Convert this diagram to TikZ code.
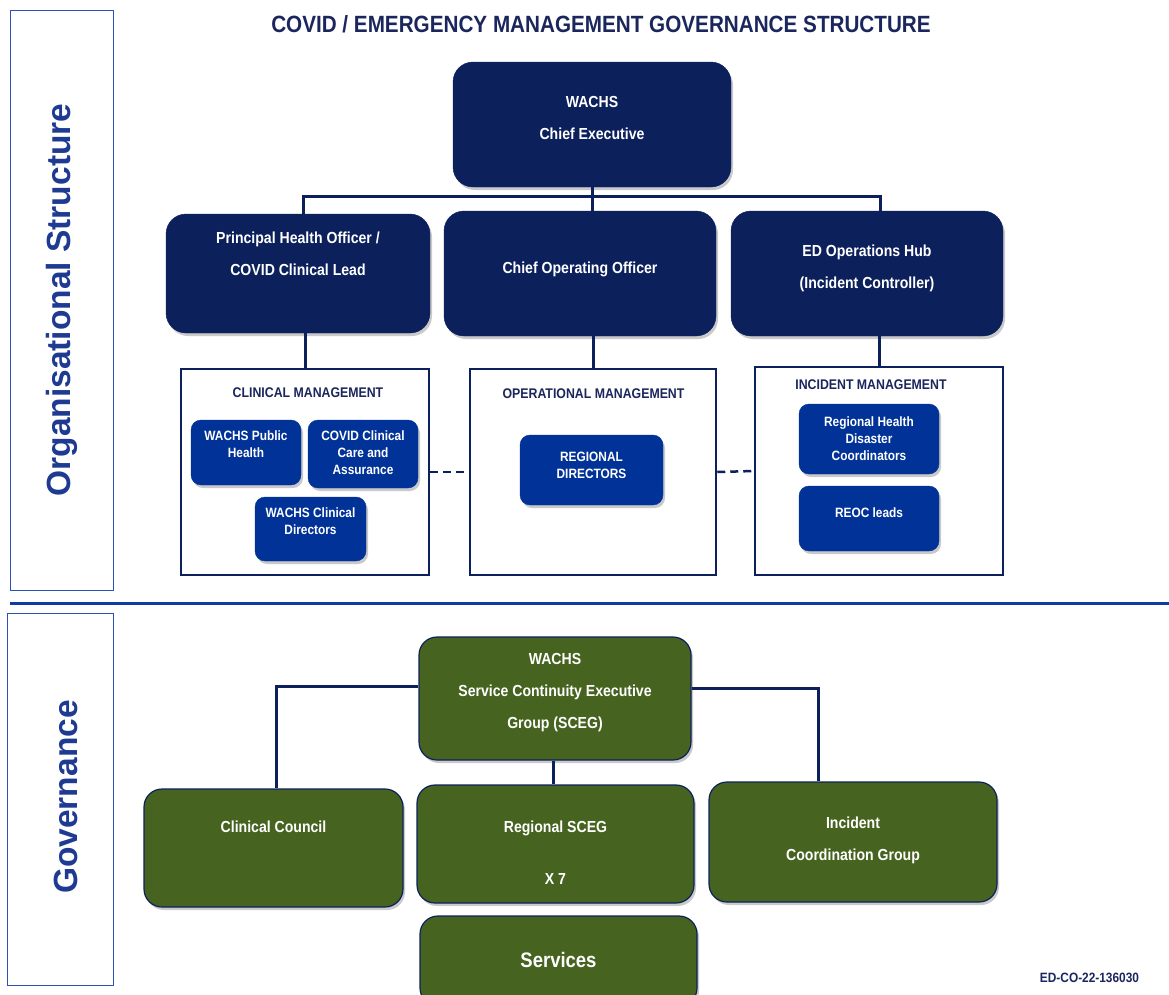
\documentclass[tikz,border=0pt]{standalone}
\usepackage{fontspec}
\newfontfamily\narrow{Liberation Sans}[FakeStretch=0.88]
\newfontfamily\wide{Liberation Sans}
\usetikzlibrary{shadows}
\definecolor{navy}{RGB}{12,32,92}
\definecolor{royal}{RGB}{0,50,152}
\definecolor{leaf}{RGB}{70,99,32}
\definecolor{titlec}{RGB}{26,38,92}
\definecolor{sidec}{RGB}{30,58,145}
\definecolor{sideb}{RGB}{45,80,180}
\definecolor{sepc}{RGB}{18,60,165}
\tikzset{
  shd/.style={drop shadow={shadow xshift=2pt, shadow yshift=-3pt, opacity=0.35, fill=black!60}},
  navybox/.style={fill=navy, draw=navy, rounded corners=20pt, shd},
  innerbox/.style={fill=royal, draw=royal, rounded corners=10pt, shd},
  greenbox/.style={fill=leaf, draw=navy, line width=1.2pt, rounded corners=18pt, shd},
  mgmt/.style={draw=navy, line width=2.5pt, fill=white},
  btext/.style={text=white, font=\narrow\bfseries\fontsize{16}{32}\selectfont, align=center, inner sep=0pt},
  itext/.style={text=white, font=\narrow\bfseries\fontsize{13.5}{17}\selectfont, align=center, inner sep=0pt},
  mtitle/.style={text=titlec, font=\narrow\bfseries\fontsize{14}{16}\selectfont, inner sep=0pt},
  conn/.style={draw=navy, line width=3pt},
  dconn/.style={draw=navy, line width=2.5pt, dash pattern=on 8pt off 5pt},
  sidebox/.style={draw=sideb, line width=1pt},
  sidelabel/.style={text=sidec, font=\wide\bfseries\fontsize{33.5}{36}\selectfont, rotate=90, inner sep=0pt},
}
\begin{document}
\begin{tikzpicture}[x=1pt,y=-1pt]
\useasboundingbox (0,0) rectangle (1169,994);
% side panels
\draw[sidebox] (10,10) rectangle (113,590);
\draw[sidebox] (7,613) rectangle (113,985);
\node[sidelabel] (orglab) at (62,300) {Organisational Structure};
\node[sidelabel] (govlab) at (66,797) {Governance};
\draw[draw=sepc, line width=3pt] (10,603) -- (1169,603);
% title
\node[text=titlec, font=\narrow\bfseries\fontsize{23.5}{28}\selectfont, inner sep=0pt] (title) at (601,24) {COVID / EMERGENCY MANAGEMENT GOVERNANCE STRUCTURE};
% top level
\node[navybox, minimum width=278, minimum height=125] (ceo) at (592,124.5) {};
\node[btext] (ceot) at (592,118) {WACHS\\Chief Executive};
\node[navybox, minimum width=264, minimum height=119] (pho) at (298,273.5) {};
\node[btext] (phot) at (298,254) {Principal Health Officer /\\COVID Clinical Lead};
\node[navybox, minimum width=272, minimum height=125] (coo) at (580,273.5) {};
\node[btext] (coot) at (580,269) {Chief Operating Officer};
\node[navybox, minimum width=272, minimum height=125] (ed) at (867,273.5) {};
\node[btext] (edt) at (867,268.5) {ED Operations Hub\\(Incident Controller)};
\coordinate (bus) at (592,196);
\draw[conn] (ceo.south) -- (bus);
\draw[conn] ([xshift=5]pho.north) |- (bus) -| ([xshift=13]ed.north);
\draw[conn] (bus) -- (bus |- coo.north);
% management boxes
\node[mgmt, minimum width=248, minimum height=206] (clin) at (305,472) {};
\node[mgmt, minimum width=246, minimum height=206] (op) at (593,472) {};
\node[mgmt, minimum width=248, minimum height=208] (inc) at (879,471) {};
\draw[conn] (clin.north) -- (clin.north |- pho.south);
\draw[conn] (op.north) -- (op.north |- coo.south);
\draw[conn] (inc.north) -- (inc.north |- ed.south);
\draw[dconn] (clin.east) -- (op.west);
\draw[dconn] (op.east) -- (inc.west);
\node[mtitle] (clint) at (308,393) {CLINICAL MANAGEMENT};
\node[mtitle] (opt) at (593.5,394) {OPERATIONAL MANAGEMENT};
\node[mtitle] (inct) at (871,385) {INCIDENT MANAGEMENT};
% inner boxes
\node[innerbox, minimum width=110, minimum height=65] (wph) at (246,452.5) {};
\node[itext] (wpht) at (246,444.5) {WACHS Public\\Health};
\node[innerbox, minimum width=110, minimum height=68] (cca) at (363,454) {};
\node[itext] (ccat) at (363,453) {COVID Clinical\\Care and\\Assurance};
\node[innerbox, minimum width=111, minimum height=64] (wcd) at (310.5,529) {};
\node[itext] (wcdt) at (310.5,521.5) {WACHS Clinical\\Directors};
\node[innerbox, minimum width=143, minimum height=70] (rd) at (591.5,470) {};
\node[itext] (rdt) at (591.5,465.5) {REGIONAL\\DIRECTORS};
\node[innerbox, minimum width=140, minimum height=70] (rhdc) at (869,439) {};
\node[itext] (rhdct) at (869,439) {Regional Health\\Disaster\\Coordinators};
\node[innerbox, minimum width=140, minimum height=65] (reoc) at (869,518.5) {};
\node[itext] (reoct) at (869,513) {REOC leads};
% governance
\node[greenbox, minimum width=272, minimum height=123] (sceg) at (555,698.5) {};
\node[btext] (scegt) at (555,693) {WACHS\\Service Continuity Executive\\Group (SCEG)};
\node[greenbox, minimum width=259, minimum height=118] (cc) at (273.5,848) {};
\node[btext] (cct) at (273.5,827) {Clinical Council};
\node[greenbox, minimum width=277, minimum height=118] (rsceg) at (555.5,844) {};
\node[btext, font=\narrow\bfseries\fontsize{16}{52}\selectfont] (rscegt) at (555.5,853) {Regional SCEG\\X 7};
\node[greenbox, minimum width=288, minimum height=120] (icg) at (853,842) {};
\node[btext] (icgt) at (853,840) {Incident\\Coordination Group};
\node[greenbox, minimum width=277, minimum height=90] (svc) at (558.5,961) {};
\node[btext, font=\narrow\bfseries\fontsize{21}{24}\selectfont] (svct) at (558.5,960) {Services};
\draw[conn] ([yshift=12]sceg.west) -| ([xshift=2.5]cc.north);
\draw[conn] ([yshift=10]sceg.east) -| ([xshift=-35]icg.north);
\draw[conn] ([xshift=-2]sceg.south) -- ([xshift=-2]sceg.south |- rsceg.north);
% footer
\node[text=titlec, font=\narrow\bfseries\fontsize{13.5}{15}\selectfont, inner sep=0pt] (foot) at (1089.5,978) {ED-CO-22-136030};
\end{tikzpicture}
\end{document}
